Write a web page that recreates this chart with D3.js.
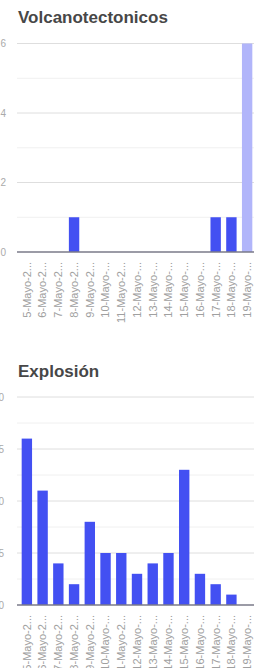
<!DOCTYPE html>
<html>
<head>
<meta charset="utf-8">
<script src="https://cdn.jsdelivr.net/npm/d3@7"></script>
<style>
  body { margin: 0; background: #fff; overflow: hidden; }
  svg { display: block; }
</style>
</head>
<body>
<script>
// tick labels as shown (truncated) on both charts
const dias = ['5-Mayo-2...', '6-Mayo-2...', '7-Mayo-2...', '8-Mayo-2...', '9-Mayo-2...',
  '10-Mayo-...', '11-Mayo-2...', '12-Mayo-...', '13-Mayo-...', '14-Mayo-...',
  '15-Mayo-...', '16-Mayo-...', '17-Mayo-...', '18-Mayo-...', '19-Mayo-...'];

// volcanotectonicos per day (last day is partial, drawn lighter)
const volcanotectonicos = [0, 0, 0, 1, 0, 0, 0, 0, 0, 0, 0, 0, 1, 1, 6];
const vtTicks = [0, 2, 4, 6];
const vtMinor = [1, 3, 5];

// explosiones per day
const explosiones = [16, 11, 4, 2, 8, 5, 5, 3, 4, 5, 13, 3, 2, 1, 0];
const exTicks = [0, 5, 10, 15, 20];
const exMinor = [2.5, 7.5, 12.5, 17.5];

const W = 254, H = 668;
const svg = d3.select('body').append('svg').attr('width', W).attr('height', H);

// draws one bar chart panel
function panel(opts) {
  const g = svg.append('g');

  g.append('text')
    .attr('x', 18).attr('y', opts.titleY)
    .attr('font-family', 'Liberation Sans, Arial, sans-serif')
    .attr('font-size', 17).attr('font-weight', 'bold')
    .attr('fill', '#474747')
    .text(opts.title);

  const x = d3.scaleBand().domain(dias).range([19, 255])
    .paddingInner(0.34).paddingOuter(0.17);
  const y = d3.scaleLinear().domain([0, opts.max]).range([opts.y0, opts.y1]);

  // minor grid
  g.selectAll('.minor').data(opts.minor).enter().append('line')
    .attr('x1', 17).attr('x2', W)
    .attr('y1', d => y(d)).attr('y2', d => y(d))
    .attr('stroke', '#f0f0f0').attr('stroke-width', 1);

  // major grid
  g.selectAll('.major').data(opts.ticks.filter(d => d > 0)).enter().append('line')
    .attr('x1', 17).attr('x2', W)
    .attr('y1', d => y(d)).attr('y2', d => y(d))
    .attr('stroke', '#dedede').attr('stroke-width', 1);

  // y tick labels (partly cut by left edge, as in the original)
  g.selectAll('.ylab').data(opts.ticks).enter().append('text')
    .attr('x', opts.labX).attr('y', d => y(d)).attr('dy', '0.35em')
    .attr('text-anchor', 'end')
    .attr('font-family', 'Liberation Sans, Arial, sans-serif')
    .attr('font-size', 10).attr('fill', '#aaa')
    .text(d => d);

  // bars
  g.selectAll('.bar').data(opts.values).enter().append('rect')
    .attr('x', (d, i) => x(dias[i]))
    .attr('width', x.bandwidth())
    .attr('y', d => y(d))
    .attr('height', d => y(0) - y(d))
    .attr('fill', (d, i) => (opts.light && i === opts.values.length - 1) ? '#b1b5fa' : '#4350f2');

  // baseline
  g.append('line')
    .attr('x1', 17).attr('x2', W)
    .attr('y1', y(0)).attr('y2', y(0))
    .attr('stroke', '#7a7a88').attr('stroke-width', 1.6);

  // rotated category labels
  g.selectAll('.xlab').data(dias).enter().append('text')
    .attr('transform', d => `translate(${x(d) + x.bandwidth() / 2},${y(0) + 10}) rotate(-90)`)
    .attr('dy', '0.35em')
    .attr('text-anchor', 'end')
    .attr('font-family', 'Liberation Sans, Arial, sans-serif')
    .attr('font-size', 11).attr('fill', '#a0a0a0')
    .text(d => d);
}

panel({ title: 'Volcanotectonicos', titleY: 23, values: volcanotectonicos,
  max: 6, ticks: vtTicks, minor: vtMinor, y0: 252, y1: 43.5, labX: 6, light: true });

panel({ title: 'Explosión', titleY: 377, values: explosiones,
  max: 20, ticks: exTicks, minor: exMinor, y0: 605, y1: 397, labX: 4, light: false });
</script>
</body>
</html>
